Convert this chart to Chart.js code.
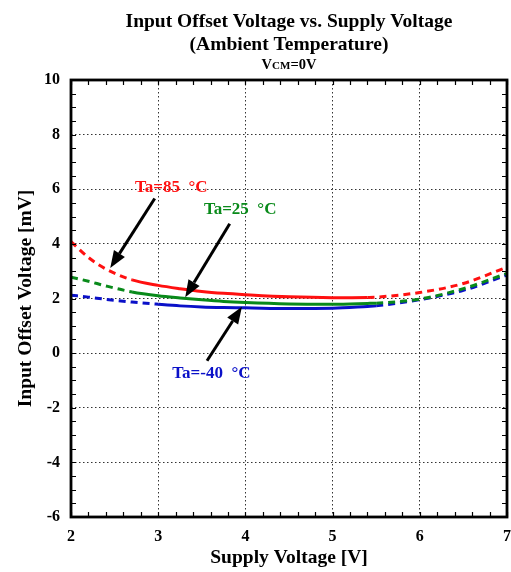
<!DOCTYPE html>
<html>
<head>
<meta charset="utf-8">
<script src="https://cdn.jsdelivr.net/npm/chart.js@4/dist/chart.umd.min.js"></script>
<style>
html,body{margin:0;padding:0;background:#fff;}
#wrap{width:511px;height:572px;position:relative;}
</style>
</head>
<body>
<div id="wrap"><canvas id="c"></canvas></div>
<script>
// ---- data ----
const supplyV = [2, 2.2, 2.4, 2.7, 3, 3.25, 3.5, 3.75, 4, 4.5, 5, 5.4, 5.5, 6, 6.5, 7];
const vio85  = [4.08, 3.50, 3.08, 2.68, 2.48, 2.36, 2.26, 2.19, 2.14, 2.06, 2.03, 2.04, 2.05, 2.22, 2.55, 3.15];
const vio25  = [2.78, 2.63, 2.46, 2.24, 2.10, 2.02, 1.95, 1.89, 1.85, 1.80, 1.79, 1.82, 1.83, 1.98, 2.36, 2.92];
const vioM40 = [2.12, 2.05, 1.97, 1.87, 1.79, 1.73, 1.69, 1.67, 1.66, 1.63, 1.64, 1.71, 1.73, 1.96, 2.30, 2.86];
const seriesNames = ['Ta=85  °C', 'Ta=25  °C', 'Ta=-40  °C'];
const solidRange85 = [2.7, 5.4];
const solidRange25 = [2.7, 5.5];
const solidRangeM40 = [3.0, 5.5];
const xTicks = [2, 3, 4, 5, 6, 7];
const yTicks = [-6, -4, -2, 0, 2, 4, 6, 8, 10];
const titleLines = ['Input Offset Voltage vs. Supply Voltage', '(Ambient Temperature)'];
const subtitleParts = ['V', 'CM', '=0V'];

const RED = '#ff1010', GREEN = '#098a1a', BLUE = '#0a10c8';
const SERIF = '"Liberation Serif", "DejaVu Serif", serif';

// annotation arrows (data coordinates): label at [x,y], arrow from -> to
const notes = [
  {text: seriesNames[0], color: RED,   at: [3.15, 6.07],  from: [2.96, 5.66], to: [2.45, 3.12]},
  {text: seriesNames[1], color: GREEN, at: [3.94, 5.27],  from: [3.82, 4.74], to: [3.31, 2.05]},
  {text: seriesNames[2], color: BLUE,  at: [3.61, -0.75], from: [3.56, -0.28], to: [3.96, 1.70]}
];

function pts(ys){ return supplyV.map((x,i)=>({x:x, y:ys[i]})); }
function dashSeg(range){
  return { borderDash: ctx => (ctx.p0.parsed.x < range[0] - 1e-9 || ctx.p1.parsed.x > range[1] + 1e-9) ? [7,5] : [] };
}

const decor = {
  id: 'decor',
  afterDraw(chart){
    const {ctx, chartArea: a, scales: {x, y}} = chart;
    const midX = (a.left + a.right) / 2;
    ctx.save();
    // minor + major inward ticks
    ctx.strokeStyle = '#000'; ctx.lineWidth = 1.2;
    for (let v = 2; v <= 7.0001; v += 0.2){
      const px = Math.round(x.getPixelForValue(v)) + 0.5;
      ctx.beginPath();
      ctx.moveTo(px, a.bottom); ctx.lineTo(px, a.bottom - 5);
      ctx.moveTo(px, a.top); ctx.lineTo(px, a.top + 5);
      ctx.stroke();
    }
    for (let v = -6; v <= 10.0001; v += 0.5){
      const py = Math.round(y.getPixelForValue(v)) + 0.5;
      ctx.beginPath();
      ctx.moveTo(a.left, py); ctx.lineTo(a.left + 5, py);
      ctx.moveTo(a.right, py); ctx.lineTo(a.right - 5, py);
      ctx.stroke();
    }
    // frame
    ctx.lineWidth = 2.8;
    ctx.strokeRect(a.left, a.top, a.right - a.left, a.bottom - a.top);
    // arrows
    notes.forEach(n => {
      const x0 = x.getPixelForValue(n.from[0]), y0 = y.getPixelForValue(n.from[1]);
      const x1 = x.getPixelForValue(n.to[0]),   y1 = y.getPixelForValue(n.to[1]);
      const ang = Math.atan2(y1 - y0, x1 - x0);
      const L = 17, W = 6.5;
      const bx = x1 - L * Math.cos(ang), by = y1 - L * Math.sin(ang);
      ctx.strokeStyle = '#000'; ctx.fillStyle = '#000'; ctx.lineWidth = 3;
      ctx.beginPath(); ctx.moveTo(x0, y0); ctx.lineTo(bx, by); ctx.stroke();
      ctx.beginPath();
      ctx.moveTo(x1, y1);
      ctx.lineTo(bx + W * Math.sin(ang), by - W * Math.cos(ang));
      ctx.lineTo(bx - W * Math.sin(ang), by + W * Math.cos(ang));
      ctx.closePath(); ctx.fill();
      ctx.font = 'bold 17px ' + SERIF;
      ctx.fillStyle = n.color; ctx.textAlign = 'center'; ctx.textBaseline = 'middle';
      ctx.fillText(n.text, x.getPixelForValue(n.at[0]), y.getPixelForValue(n.at[1]));
    });
    // titles
    ctx.fillStyle = '#000'; ctx.textBaseline = 'alphabetic'; ctx.textAlign = 'center';
    ctx.font = 'bold 19.5px ' + SERIF;
    ctx.fillText(titleLines[0], midX, 27);
    ctx.fillText(titleLines[1], midX, 50);
    // subtitle VCM=0V with small caps
    ctx.textAlign = 'left';
    const fonts = ['bold 14.5px ', 'bold 11px ', 'bold 14.5px '];
    let tw = 0;
    subtitleParts.forEach((p, i) => { ctx.font = fonts[i] + SERIF; tw += ctx.measureText(p).width; });
    let cx = midX - tw / 2;
    subtitleParts.forEach((p, i) => { ctx.font = fonts[i] + SERIF; ctx.fillText(p, cx, 69); cx += ctx.measureText(p).width; });
    ctx.restore();
  }
};

new Chart(document.getElementById('c'), {
  type: 'line',
  data: {
    datasets: [
      {label: seriesNames[0], data: pts(vio85),  borderColor: RED,   segment: dashSeg(solidRange85)},
      {label: seriesNames[1], data: pts(vio25),  borderColor: GREEN, segment: dashSeg(solidRange25)},
      {label: seriesNames[2], data: pts(vioM40), borderColor: BLUE,  segment: dashSeg(solidRangeM40)}
    ].map(d => Object.assign(d, {borderWidth: 3, pointRadius: 0, cubicInterpolationMode: 'monotone', fill: false}))
  },
  options: {
    responsive: true, maintainAspectRatio: false, animation: false,
    layout: {padding: {left: 0, right: 4, top: 80, bottom: 0}},
    plugins: {
      legend: {display: false},
      tooltip: {enabled: false},
      title: {display: false}
    },
    scales: {
      x: {
        type: 'linear', min: 2, max: 7,
        afterBuildTicks: s => { s.ticks = xTicks.map(v => ({value: v})); },
        afterFit: s => { s.height = 55; s.paddingLeft = 0; s.paddingRight = 0; },
        grid: {color: '#333', lineWidth: 1, drawTicks: false},
        border: {display: false, dash: [1.5, 2.5]},
        ticks: {color: '#000', padding: 10, font: {family: SERIF, size: 16, weight: 'bold'}},
        title: {display: true, text: 'Supply Voltage [V]', color: '#000', padding: {top: 0, bottom: 2},
                font: {family: SERIF, size: 19.5, weight: 'bold'}}
      },
      y: {
        type: 'linear', min: -6, max: 10,
        afterBuildTicks: s => { s.ticks = yTicks.map(v => ({value: v})); },
        afterFit: s => { s.width = 71; s.paddingTop = 0; s.paddingBottom = 0; },
        grid: {color: '#333', lineWidth: 1, drawTicks: false},
        border: {display: false, dash: [1.5, 2.5]},
        ticks: {color: '#000', padding: 11, font: {family: SERIF, size: 16, weight: 'bold'}},
        title: {display: true, text: 'Input Offset Voltage [mV]', color: '#000', padding: {top: 14, bottom: 0},
                font: {family: SERIF, size: 19.5, weight: 'bold'}}
      }
    }
  },
  plugins: [decor]
});
</script>
</body>
</html>
